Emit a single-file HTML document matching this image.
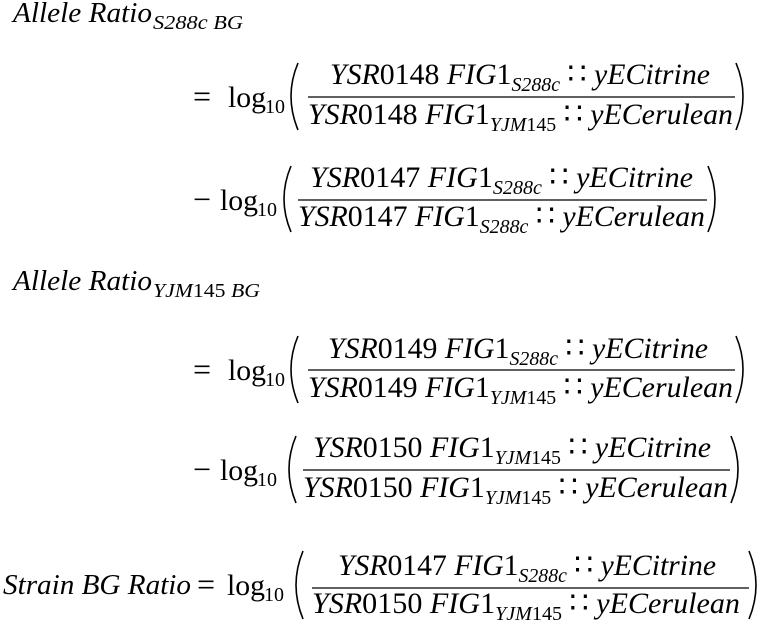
<!DOCTYPE html>
<html><head><meta charset="utf-8"><style>
html,body{margin:0;padding:0;background:#fff;}
svg{display:block;}
text{font-family:"Liberation Serif",serif;fill:#000;}
.i{font-style:italic;}
</style></head><body>
<svg width="762" height="620" viewBox="0 0 762 620" xmlns="http://www.w3.org/2000/svg">
<g font-size="30">
<!-- Title 1 -->
<text class="i" x="13" y="22" font-size="28" textLength="139" lengthAdjust="spacingAndGlyphs">Allele Ratio</text>
<text class="i" x="153" y="29" font-size="20" textLength="90" lengthAdjust="spacingAndGlyphs">S288c BG</text>

<!-- Block 1 -->
<text x="193" y="107" font-size="32">=</text>
<text x="228" y="107" textLength="38" lengthAdjust="spacingAndGlyphs">log</text>
<text x="265" y="113" font-size="20" textLength="20" lengthAdjust="spacingAndGlyphs">10</text>
<path d="M298 63 Q284 96 298 130" fill="none" stroke="#000" stroke-width="1.6"/>
<path d="M736 63 Q750 96 736 130" fill="none" stroke="#000" stroke-width="1.6"/>
<text class="i" x="330" y="84" textLength="380" lengthAdjust="spacingAndGlyphs">YSR<tspan font-style="normal">0148</tspan> FIG<tspan font-style="normal">1</tspan><tspan font-size="20" dy="7">S288c</tspan><tspan dy="-7"> <tspan font-style="normal">∷</tspan> yECitrine</tspan></text>
<line x1="308" y1="97" x2="735" y2="97" stroke="#000" stroke-width="1.3"/>
<text class="i" x="308" y="124" textLength="425" lengthAdjust="spacingAndGlyphs">YSR<tspan font-style="normal">0148</tspan> FIG<tspan font-style="normal">1</tspan><tspan font-size="20" dy="7">YJM<tspan font-style="normal">145</tspan></tspan><tspan dy="-7"> <tspan font-style="normal">∷</tspan> yECerulean</tspan></text>

<!-- Block 2 -->
<text x="193" y="210" font-size="32">−</text>
<text x="220" y="210" textLength="38" lengthAdjust="spacingAndGlyphs">log</text>
<text x="257" y="216" font-size="20" textLength="20" lengthAdjust="spacingAndGlyphs">10</text>
<path d="M291 166 Q277 199 291 232" fill="none" stroke="#000" stroke-width="1.6"/>
<path d="M708 166 Q722 199 708 232" fill="none" stroke="#000" stroke-width="1.6"/>
<text class="i" x="310" y="187" textLength="383" lengthAdjust="spacingAndGlyphs">YSR<tspan font-style="normal">0147</tspan> FIG<tspan font-style="normal">1</tspan><tspan font-size="20" dy="7">S288c</tspan><tspan dy="-7"> <tspan font-style="normal">∷</tspan> yECitrine</tspan></text>
<line x1="298" y1="200" x2="707" y2="200" stroke="#000" stroke-width="1.3"/>
<text class="i" x="298" y="226" textLength="407" lengthAdjust="spacingAndGlyphs">YSR<tspan font-style="normal">0147</tspan> FIG<tspan font-style="normal">1</tspan><tspan font-size="20" dy="7">S288c</tspan><tspan dy="-7"> <tspan font-style="normal">∷</tspan> yECerulean</tspan></text>

<!-- Title 2 -->
<text class="i" x="13" y="290" font-size="28" textLength="139" lengthAdjust="spacingAndGlyphs">Allele Ratio</text>
<text class="i" x="153" y="297" font-size="20" textLength="107" lengthAdjust="spacingAndGlyphs">YJM<tspan font-style="normal">145</tspan> BG</text>

<!-- Block 3 -->
<text x="193" y="380" font-size="32">=</text>
<text x="228" y="380" textLength="38" lengthAdjust="spacingAndGlyphs">log</text>
<text x="265" y="386" font-size="20" textLength="20" lengthAdjust="spacingAndGlyphs">10</text>
<path d="M298 336 Q284 369 298 403" fill="none" stroke="#000" stroke-width="1.6"/>
<path d="M736 336 Q750 369 736 403" fill="none" stroke="#000" stroke-width="1.6"/>
<text class="i" x="328" y="358" textLength="380" lengthAdjust="spacingAndGlyphs">YSR<tspan font-style="normal">0149</tspan> FIG<tspan font-style="normal">1</tspan><tspan font-size="20" dy="7">S288c</tspan><tspan dy="-7"> <tspan font-style="normal">∷</tspan> yECitrine</tspan></text>
<line x1="308" y1="370" x2="735" y2="370" stroke="#000" stroke-width="1.3"/>
<text class="i" x="308" y="397" textLength="425" lengthAdjust="spacingAndGlyphs">YSR<tspan font-style="normal">0149</tspan> FIG<tspan font-style="normal">1</tspan><tspan font-size="20" dy="7">YJM<tspan font-style="normal">145</tspan></tspan><tspan dy="-7"> <tspan font-style="normal">∷</tspan> yECerulean</tspan></text>

<!-- Block 4 -->
<text x="193" y="480" font-size="32">−</text>
<text x="220" y="480" textLength="38" lengthAdjust="spacingAndGlyphs">log</text>
<text x="257" y="486" font-size="20" textLength="20" lengthAdjust="spacingAndGlyphs">10</text>
<path d="M296 436 Q282 469 296 503" fill="none" stroke="#000" stroke-width="1.6"/>
<path d="M731 436 Q745 469 731 503" fill="none" stroke="#000" stroke-width="1.6"/>
<text class="i" x="313" y="457" textLength="398" lengthAdjust="spacingAndGlyphs">YSR<tspan font-style="normal">0150</tspan> FIG<tspan font-style="normal">1</tspan><tspan font-size="20" dy="7">YJM<tspan font-style="normal">145</tspan></tspan><tspan dy="-7"> <tspan font-style="normal">∷</tspan> yECitrine</tspan></text>
<line x1="303" y1="470" x2="730" y2="470" stroke="#000" stroke-width="1.3"/>
<text class="i" x="303" y="497" textLength="425" lengthAdjust="spacingAndGlyphs">YSR<tspan font-style="normal">0150</tspan> FIG<tspan font-style="normal">1</tspan><tspan font-size="20" dy="7">YJM<tspan font-style="normal">145</tspan></tspan><tspan dy="-7"> <tspan font-style="normal">∷</tspan> yECerulean</tspan></text>

<!-- Block 5 -->
<text class="i" x="3" y="594" font-size="28" textLength="188" lengthAdjust="spacingAndGlyphs">Strain BG Ratio</text>
<text x="197" y="595" font-size="32">=</text>
<text x="227" y="595" textLength="38" lengthAdjust="spacingAndGlyphs">log</text>
<text x="264" y="601" font-size="20" textLength="20" lengthAdjust="spacingAndGlyphs">10</text>
<path d="M303 551 Q289 585 303 619" fill="none" stroke="#000" stroke-width="1.6"/>
<path d="M749 551 Q763 585 749 619" fill="none" stroke="#000" stroke-width="1.6"/>
<text class="i" x="338" y="575" textLength="378" lengthAdjust="spacingAndGlyphs">YSR<tspan font-style="normal">0147</tspan> FIG<tspan font-style="normal">1</tspan><tspan font-size="20" dy="7">S288c</tspan><tspan dy="-7"> <tspan font-style="normal">∷</tspan> yECitrine</tspan></text>
<line x1="312" y1="588" x2="749" y2="588" stroke="#000" stroke-width="1.3"/>
<text class="i" x="312" y="613" textLength="428" lengthAdjust="spacingAndGlyphs">YSR<tspan font-style="normal">0150</tspan> FIG<tspan font-style="normal">1</tspan><tspan font-size="20" dy="7">YJM<tspan font-style="normal">145</tspan></tspan><tspan dy="-7"> <tspan font-style="normal">∷</tspan> yECerulean</tspan></text>
</g>
</svg>
</body></html>
